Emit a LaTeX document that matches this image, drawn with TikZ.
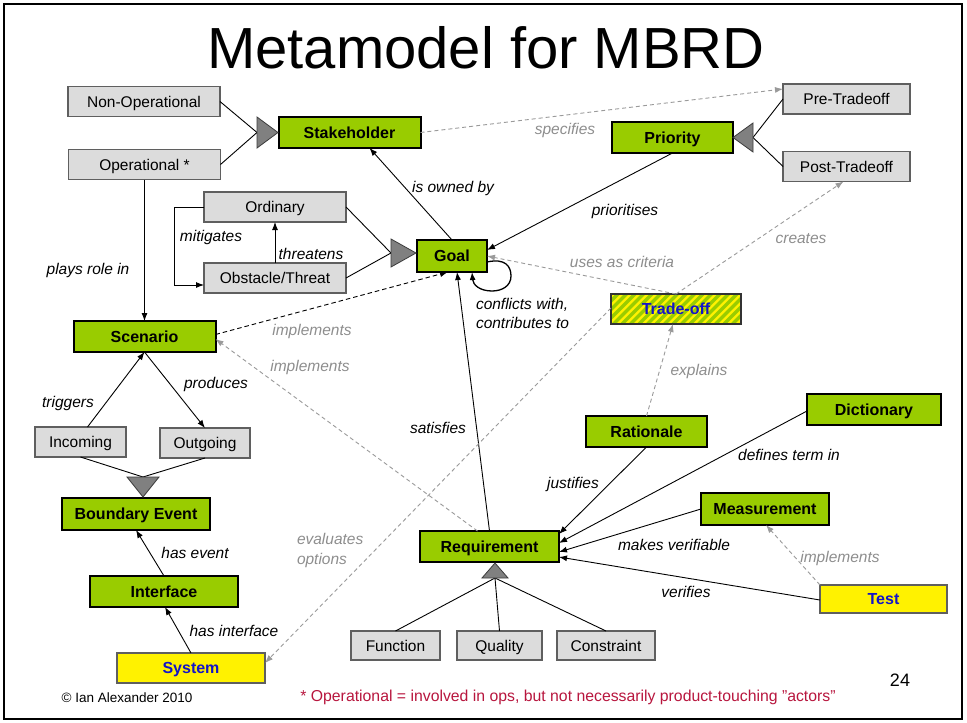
\documentclass[tikz,border=0pt]{standalone}
\usepackage{fontspec}
\setmainfont{Liberation Sans}
\usetikzlibrary{arrows.meta,calc}
\definecolor{boxgreen}{HTML}{99CC00}
\definecolor{boxgray}{HTML}{DCDCDC}
\definecolor{edgegray}{HTML}{5F5F5F}
\definecolor{linkgray}{HTML}{9A9A9A}
\definecolor{labelgray}{HTML}{8E8E8E}
\definecolor{textblue}{HTML}{1414C8}
\definecolor{notered}{HTML}{B8163E}
\definecolor{trifill}{HTML}{808080}
\definecolor{triedge}{HTML}{3C3C3C}

\begin{document}
\begin{tikzpicture}[x=1pt,y=-1pt,
  every node/.style={inner sep=0pt, outer sep=0pt},
  boxbase/.style={font=\fontsize{15.5}{18}\selectfont, minimum height=30pt,
    text height=11.2pt, text depth=0pt},
  graybox/.style={boxbase, draw=edgegray, fill=boxgray, line width=1.1pt},
  greenbox/.style={boxbase, draw=black, fill=boxgreen, line width=2pt, minimum height=31pt,
    font=\fontsize{16}{19}\selectfont\bfseries},
  yellowbox/.style={boxbase, draw=edgegray, fill=yellow, line width=1.1pt, text=textblue,
    font=\fontsize{16}{19}\selectfont\bfseries},
  hatched/.style={draw=black!80, path picture={
    \foreach \k in {0,...,24}{
      \draw[boxgreen, line width=3.2pt]
        ([xshift=\k*8.5pt-40pt]path picture bounding box.south west) -- ++(50pt,50pt);}}},
  rel/.style={draw=black, line width=0.9pt, -{Latex[length=8pt,width=6pt]}},
  plain/.style={draw=black, line width=0.9pt},
  darkdash/.style={rel, dash pattern=on 4.5pt off 3pt},
  graydash/.style={draw=linkgray, line width=0.9pt, dash pattern=on 4pt off 3pt,
    -{Latex[length=8pt,width=6pt]}},
  lbl/.style={font=\fontsize{15.5}{19}\selectfont\itshape, anchor=base},
  glbl/.style={lbl, text=labelgray},
  genz/.style={fill=trifill, draw=triedge, line width=0.8pt, line join=miter}
]
% page and frame
\fill[white] (0,0) rectangle (967,723);
\useasboundingbox (0,0) rectangle (967,723);
\draw[line width=2pt] (4,4) rectangle (962,719);

\node[font=\fontsize{58}{62}\selectfont, anchor=base] (title) at (486,68) {Metamodel for MBRD};

% ---------- boxes ----------
\node[graybox, minimum width=152pt] (nonop) at (144,101.5) {Non-Operational};
\node[graybox, minimum width=152pt] (oper) at (144.5,164.5) {Operational *};
\node[greenbox, minimum width=142pt] (stake) at (349.5,132.5) {Stakeholder};
\node[graybox, minimum width=142pt] (ordin) at (275,207) {Ordinary};
\node[graybox, minimum width=142pt] (obst) at (275,278) {Obstacle/Threat};
\node[greenbox, minimum width=70pt, minimum height=32pt] (goal) at (452,256) {Goal};
\node[greenbox, minimum width=121pt] (prio) at (672.5,137.5) {Priority};
\node[graybox, minimum width=127pt] (pre) at (846.5,99) {Pre-Tradeoff};
\node[graybox, minimum width=127pt] (post) at (846.5,166.5) {Post-Tradeoff};
\node[yellowbox, hatched, minimum width=130pt] (trade) at (676,309) {Trade-off};
\node[greenbox, minimum width=142pt] (scen) at (144.5,336.5) {Scenario};
\node[graybox, minimum width=91pt] (incom) at (80.5,442) {Incoming};
\node[graybox, minimum width=90pt] (outgo) at (205,443) {Outgoing};
\node[greenbox, minimum width=148pt, minimum height=32pt] (bevent) at (136,514) {Boundary Event};
\node[greenbox, minimum width=148pt] (iface) at (164,591.5) {Interface};
\node[yellowbox, minimum width=148pt] (sys) at (191,668) {System};
\node[greenbox, minimum width=121pt] (ratio) at (646.5,431.5) {Rationale};
\node[greenbox, minimum width=134pt] (dict) at (874,409.5) {Dictionary};
\node[greenbox, minimum width=128pt, minimum height=32pt] (meas) at (765,509) {Measurement};
\node[greenbox, minimum width=139pt] (req) at (489.5,546.5) {Requirement};
\node[yellowbox, minimum width=127pt, minimum height=28pt] (test) at (883.5,599) {Test};
\node[graybox, minimum width=89pt, minimum height=29pt] (func) at (395.5,645.5) {Function};
\node[graybox, minimum width=85pt, minimum height=29pt] (qual) at (499.5,645.5) {Quality};
\node[graybox, minimum width=98pt, minimum height=29pt] (cons) at (606,645.5) {Constraint};

% ---------- generalisation triangles ----------
\coordinate (stkBase) at (257,132.5);
\coordinate (stkTip) at (278,132.5);
\coordinate (goalBase) at (391,253);
\coordinate (goalTip) at (416,253);
\coordinate (prioBase) at (753,137.5);
\coordinate (prioTip) at (733,137.5);
\coordinate (evtBase) at (143,477);
\coordinate (evtTip) at (143,497);
\coordinate (reqBase) at (495,578);
\coordinate (reqTip) at (495,563);

% specialisations
\draw[plain] (nonop.east) -- (stkBase);
\draw[plain] (oper.east) -- (stkBase);
\draw[plain] (ordin.east) -- (goalBase);
\draw[plain] (obst.east) -- (goalBase);
\draw[plain] (pre.west) -- (prioBase);
\draw[plain] (post.west) -- (prioBase);
\draw[plain] (incom.south) -- (evtBase);
\draw[plain] (outgo.south) -- (evtBase);
\draw[plain] (func.north) -- (reqBase);
\draw[plain] (qual.north) -- (reqBase);
\draw[plain] (cons.north) -- (reqBase);

\draw[genz] (stkTip) -- ($(stkBase)+(0,-15.5)$) -- ($(stkBase)+(0,15.5)$) -- cycle;
\draw[genz] (goalTip) -- ($(goalBase)+(0,-14)$) -- ($(goalBase)+(0,14)$) -- cycle;
\draw[genz] (prioTip) -- ($(prioBase)+(0,-14.5)$) -- ($(prioBase)+(0,14.5)$) -- cycle;
\draw[genz] (evtTip) -- ($(evtBase)+(-16,0)$) -- ($(evtBase)+(16,0)$) -- cycle;
\draw[genz] (reqTip) -- ($(reqBase)+(-13,0)$) -- ($(reqBase)+(13,0)$) -- cycle;

% ---------- associations ----------
\draw[rel] (oper.south) -- (scen.north);
\draw[rel] (ordin.west) -- ++(-30,0) |- ([yshift=-7pt]obst.west);
\draw[rel] (obst.north) -- (ordin.south);
\draw[rel] (goal.north) -- ([xshift=20pt]stake.south);
\draw[graydash] (stake.east) -- ([yshift=10pt]pre.west);
\draw[rel] (prio.south) -- ([yshift=6pt]goal.east);
\draw[graydash] (trade.north) -- ([yshift=0pt]goal.east);
\draw[graydash] (trade.north) -- ([xshift=-3pt]post.south);
\draw[rel, line width=1.3pt] ([yshift=-6pt]goal.east) .. controls (505,258) and (511,266) .. (511,276)
  .. controls (511,286) and (502,291) .. (492,291)
  .. controls (480,291) and (473,285) .. ([xshift=20pt]goal.south);
\draw[darkdash] ([yshift=2pt]scen.east) -- ([xshift=-4pt]goal.south);
\draw[graydash] ([xshift=-12pt]req.north) -- ([yshift=-2.5pt]scen.east);
\draw[rel] (req.north) -- ([xshift=5pt]goal.south);
\draw[rel] ([xshift=7pt]incom.north) -- (scen.south);
\draw[rel] (scen.south) -- (outgo.north);
\draw[rel] (iface.north) -- (bevent.south);
\draw[rel] (sys.north) -- ([xshift=1pt]iface.south);
\draw[graydash] ([yshift=1pt]trade.west) -- ([yshift=5pt]sys.east);
\draw[graydash] (ratio.north) -- ([xshift=-3pt]trade.south);
\draw[rel] (ratio.south) -- ([yshift=12.5pt]req.east);
\draw[rel] ([yshift=-1.5pt]dict.west) -- ([yshift=3.5pt]req.east);
\draw[rel] (meas.west) -- ([yshift=-5.5pt]req.east);
\draw[rel] ([yshift=-1pt]test.west) -- ([yshift=-10.5pt]req.east);
\draw[graydash] (test.north west) -- ([xshift=1pt]meas.south);

% ---------- labels ----------
\node[lbl] (lplays) at (88,274.5) {plays role in};
\node[lbl] (lmitig) at (211,241.5) {mitigates};
\node[lbl] (lthreat) at (311,259.5) {threatens};
\node[lbl] (lowned) at (453,192.5) {is owned by};
\node[glbl] (lspec) at (565,134.5) {specifies};
\node[lbl] (lprio) at (625,215.5) {prioritises};
\node[glbl] (lcrit) at (622,267.5) {uses as criteria};
\node[glbl] (lcreat) at (801,243.5) {creates};
\node[lbl, anchor=north west, align=left, font=\fontsize{15.5}{19}\selectfont\itshape] (lconfl) at (476,298)
  {conflicts with,\\contributes to};
\node[glbl] (limpA) at (312,335.5) {implements};
\node[glbl] (limpB) at (310,371.5) {implements};
\node[lbl] (lprod) at (216,388.5) {produces};
\node[lbl] (ltrig) at (68,407.5) {triggers};
\node[glbl] (lexpl) at (699,375.5) {explains};
\node[lbl] (lsatis) at (438,433.5) {satisfies};
\node[lbl] (ldefin) at (789,460.5) {defines term in};
\node[lbl] (ljust) at (573,488.5) {justifies};
\node[glbl, anchor=north west, align=left, font=\fontsize{15.5}{20}\selectfont\itshape] (leval) at (297,533)
  {evaluates\\options};
\node[lbl] (lhasev) at (195,558.5) {has event};
\node[lbl] (lmakes) at (674,550.5) {makes verifiable};
\node[glbl] (limpC) at (840,562.5) {implements};
\node[lbl] (lverif) at (686,597.5) {verifies};
\node[lbl] (lhasif) at (234,636.5) {has interface};

% ---------- footer ----------
\node[font=\fontsize{13.5}{16}\selectfont, anchor=base] (copy) at (127,702) {\textcopyright{} Ian Alexander 2010};
\node[font=\fontsize{15.8}{18}\selectfont, text=notered, anchor=base] (note) at (568,701)
  {* Operational = involved in ops, but not necessarily product-touching \symbol{34}actors\symbol{34}};
\node[font=\fontsize{18}{20}\selectfont, anchor=base] (pageno) at (900,686) {24};
\end{tikzpicture}
\end{document}
